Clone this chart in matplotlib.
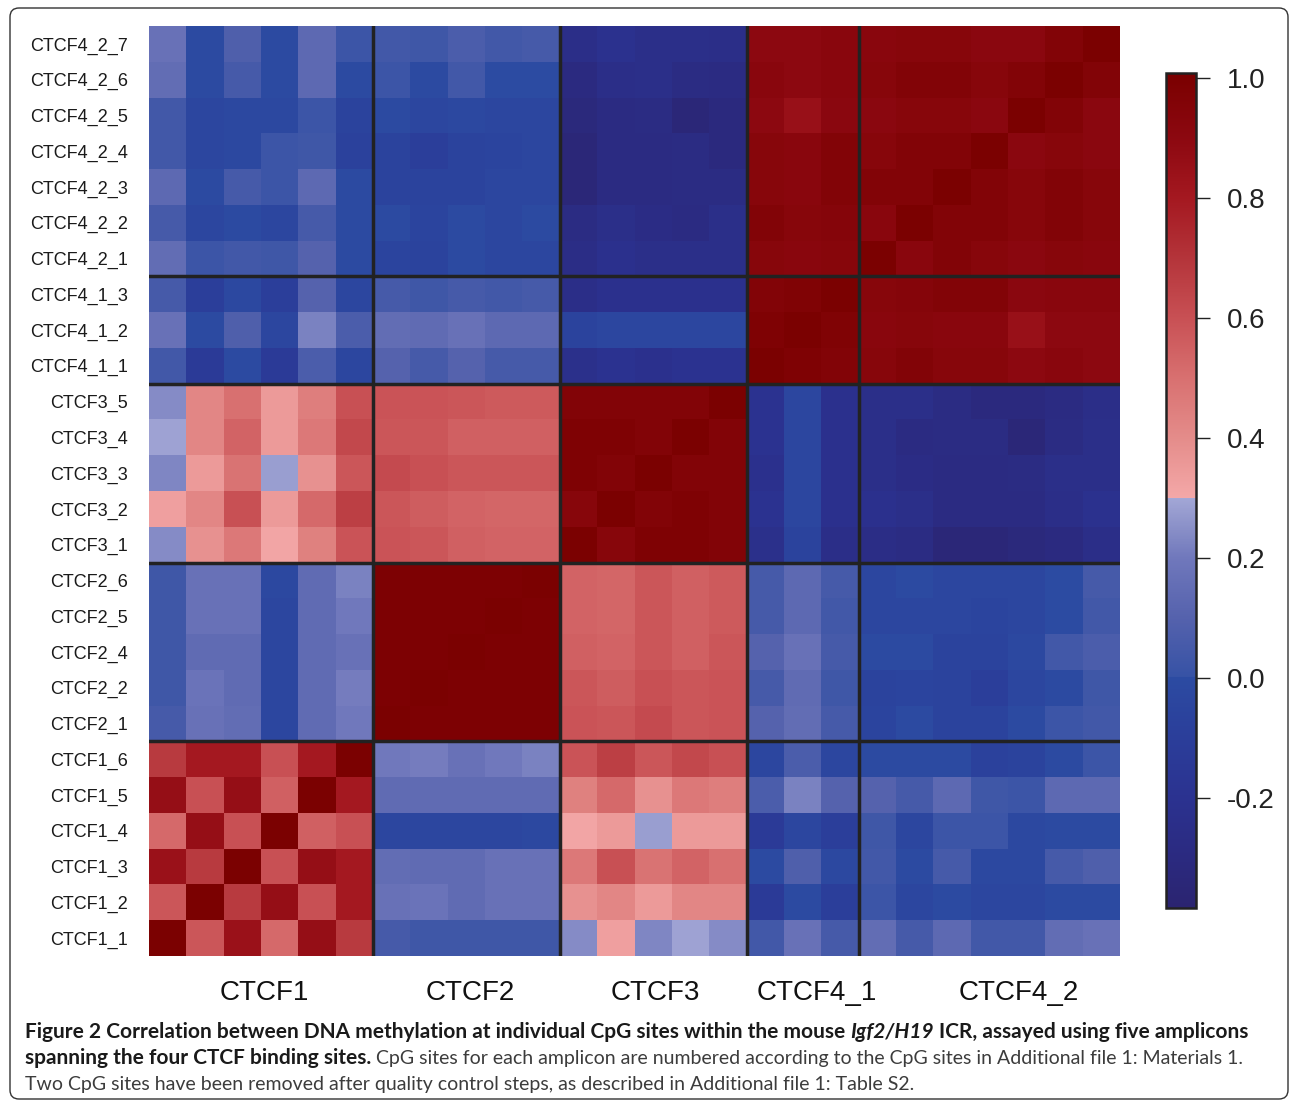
import numpy as np
import matplotlib
matplotlib.use('Agg')
import matplotlib.pyplot as plt
from matplotlib.colors import ListedColormap, Normalize, to_rgb
from matplotlib.patches import FancyBboxPatch
from matplotlib.transforms import IdentityTransform, blended_transform_factory

plt.rcParams['font.family'] = ['Liberation Sans', 'DejaVu Sans']
plt.rcParams['axes.unicode_minus'] = False

# CpG sites, bottom row / left column first
site_labels = ['CTCF1_1', 'CTCF1_2', 'CTCF1_3', 'CTCF1_4', 'CTCF1_5', 'CTCF1_6',
               'CTCF2_1', 'CTCF2_2', 'CTCF2_4', 'CTCF2_5', 'CTCF2_6',
               'CTCF3_1', 'CTCF3_2', 'CTCF3_3', 'CTCF3_4', 'CTCF3_5',
               'CTCF4_1_1', 'CTCF4_1_2', 'CTCF4_1_3',
               'CTCF4_2_1', 'CTCF4_2_2', 'CTCF4_2_3', 'CTCF4_2_4',
               'CTCF4_2_5', 'CTCF4_2_6', 'CTCF4_2_7']
amplicons = ['CTCF1', 'CTCF2', 'CTCF3', 'CTCF4_1', 'CTCF4_2']
amplicon_sizes = [6, 5, 5, 3, 7]
amplicon_label_x = [3.08, 8.59, 13.57, 17.88, 23.29]

# lower triangle of the correlation matrix (row i, columns 0..i-1)
corr_lower = [
    [],
    [0.58],
    [0.84, 0.68],
    [0.52, 0.86, 0.60],
    [0.86, 0.60, 0.86, 0.55],
    [0.68, 0.80, 0.80, 0.60, 0.80],
    [0.05, 0.17, 0.15, -0.04, 0.14, 0.20],
    [0.03, 0.18, 0.14, -0.04, 0.14, 0.21, 0.99],
    [0.03, 0.14, 0.14, -0.04, 0.14, 0.17, 0.99, 0.99],
    [0.03, 0.17, 0.17, -0.04, 0.14, 0.20, 0.99, 0.99, 0.99],
    [0.03, 0.17, 0.17, -0.02, 0.14, 0.22, 0.99, 0.99, 0.99, 0.99],
    [0.24, 0.38, 0.47, 0.31, 0.44, 0.59, 0.59, 0.58, 0.55, 0.54, 0.54],
    [0.33, 0.42, 0.60, 0.35, 0.52, 0.66, 0.58, 0.56, 0.54, 0.53, 0.53, 0.93],
    [0.23, 0.35, 0.49, 0.28, 0.38, 0.58, 0.62, 0.60, 0.58, 0.58, 0.58, 0.98, 0.96],
    [0.29, 0.42, 0.54, 0.35, 0.47, 0.63, 0.58, 0.58, 0.55, 0.55, 0.55, 0.98, 0.98, 0.96],
    [0.24, 0.42, 0.50, 0.35, 0.45, 0.60, 0.59, 0.59, 0.58, 0.57, 0.57, 0.96, 0.96, 0.96, 0.96],
    [0.04, -0.13, -0.01, -0.13, 0.07, -0.04, 0.10, 0.05, 0.10, 0.05, 0.05,
     -0.23, -0.20, -0.22, -0.20, -0.20],
    [0.17, -0.01, 0.08, -0.04, 0.22, 0.07, 0.15, 0.14, 0.17, 0.13, 0.13,
     -0.06, -0.04, -0.04, -0.04, -0.04, 0.98],
    [0.05, -0.10, -0.02, -0.10, 0.10, -0.04, 0.05, 0.03, 0.05, 0.04, 0.05,
     -0.25, -0.22, -0.22, -0.22, -0.22, 0.96, 0.97],
    [0.15, 0.02, 0.04, 0.03, 0.10, -0.01, -0.05, -0.06, -0.01, -0.04, -0.04,
     -0.26, -0.22, -0.24, -0.24, -0.24, 0.93, 0.92, 0.93],
    [0.05, -0.04, -0.01, -0.04, 0.05, -0.01, -0.01, -0.05, -0.01, -0.04, -0.01,
     -0.28, -0.24, -0.27, -0.29, -0.24, 0.96, 0.93, 0.94, 0.92],
    [0.13, -0.01, 0.05, 0.02, 0.13, -0.01, -0.06, -0.06, -0.06, -0.04, -0.04,
     -0.34, -0.29, -0.29, -0.28, -0.28, 0.93, 0.92, 0.96, 0.96, 0.96],
    [0.04, -0.04, -0.02, 0.02, 0.03, -0.08, -0.06, -0.10, -0.06, -0.05, -0.04,
     -0.34, -0.29, -0.29, -0.28, -0.31, 0.93, 0.92, 0.96, 0.93, 0.96, 0.96],
    [0.04, -0.04, -0.02, -0.02, 0.02, -0.06, -0.01, -0.04, -0.02, -0.04, -0.04,
     -0.32, -0.29, -0.28, -0.34, -0.31, 0.90, 0.85, 0.91, 0.91, 0.93, 0.93, 0.91],
    [0.15, -0.01, 0.05, -0.01, 0.13, -0.01, 0.02, -0.01, 0.04, 0.00, 0.00,
     -0.30, -0.25, -0.24, -0.28, -0.29, 0.92, 0.90, 0.92, 0.93, 0.96, 0.96, 0.93, 0.96],
    [0.17, -0.01, 0.08, -0.01, 0.13, 0.02, 0.04, 0.03, 0.07, 0.04, 0.05,
     -0.25, -0.21, -0.24, -0.24, -0.25, 0.90, 0.90, 0.92, 0.92, 0.93, 0.93, 0.91, 0.91, 0.96],
]

n = len(site_labels)
corr = np.eye(n)
for i, row in enumerate(corr_lower):
    for j, v in enumerate(row):
        corr[i, j] = v
        corr[j, i] = v

# colour scale: navy -> blue | light blue | pink -> dark red (breaks at 0 and 0.3)
vmin, vmax = -0.384, 1.008
segments = [
    [(-0.384, '#2b2470'), (-0.3, '#2b2a80'), (-0.2, '#2b3290'), (-0.1, '#2b3e9a'), (0.0, '#2c4ba2')],
    [(0.0, '#3652a5'), (0.1, '#5562ad'), (0.2, '#7078bc'), (0.25, '#8a90c8'), (0.3, '#a3a7d6')],
    [(0.3, '#f4a8a8'), (0.4, '#e48c8a'), (0.5, '#d87070'), (0.6, '#c85054'), (0.7, '#b4343a'),
     (0.8, '#a41820'), (0.9, '#8c0810'), (1.008, '#7a0000')],
]
grid = np.linspace(vmin, vmax, 1024)
rgb = np.zeros((len(grid), 3))
for seg in segments:
    xs = [p[0] for p in seg]
    cs = np.array([to_rgb(p[1]) for p in seg])
    m = (grid >= xs[0]) & (grid <= xs[-1])
    for c in range(3):
        rgb[m, c] = np.interp(grid[m], xs, cs[:, c])
cmap = ListedColormap(rgb)
norm = Normalize(vmin=vmin, vmax=vmax)

W, H = 1290, 1102
fig = plt.figure(figsize=(W / 100, H / 100), dpi=100)
fig.patch.set_facecolor('white')

ax = fig.add_axes([149 / W, 1 - 956 / H, 971 / W, 930 / H])
mesh = ax.pcolormesh(np.arange(n + 1), np.arange(n + 1), corr, cmap=cmap, norm=norm,
                     shading='flat', edgecolors='face', linewidth=0.0)
ax.set_xlim(0, n)
ax.set_ylim(0, n)
for s in ax.spines.values():
    s.set_visible(False)

bounds = np.cumsum(amplicon_sizes)[:-1]
for b in bounds:
    ax.axvline(b, color='#222222', lw=2.5)
    ax.axhline(b, color='#222222', lw=2.5)

ax.set_xticks([])
ax.set_yticks(np.arange(n) + 0.5)
ax.set_yticklabels(site_labels, fontsize=13, color='#1a1a1a')
ax.tick_params(axis='y', length=0, pad=15)

tr = blended_transform_factory(ax.transData, IdentityTransform())
for name, xpos in zip(amplicons, amplicon_label_x):
    ax.text(xpos, H - 1000, name, transform=tr, ha='center', va='baseline',
            fontsize=20, color='#111111')

# colour bar
cax = fig.add_axes([1166 / W, 1 - 908 / H, 30 / W, 835 / H])
cb = fig.colorbar(mesh, cax=cax, ticks=[-0.2, 0.0, 0.2, 0.4, 0.6, 0.8, 1.0], format='%.1f')
cb.outline.set_linewidth(1.8)
cb.outline.set_edgecolor('#222222')
cb.ax.tick_params(length=10, width=1.0, labelsize=20, pad=12, colors='#222222')

# rounded frame
frame = FancyBboxPatch((10, 3), 1278, 1091, boxstyle='round,pad=0,rounding_size=9',
                       transform=IdentityTransform(), fill=False, ec='#333333', lw=1.0)
fig.add_artist(frame)

# caption with mixed styles
renderer = fig.canvas.get_renderer()
bold_size = 15
reg_size = 14
bold_col = '#1a1a1a'
reg_col = '#3c3c3c'


def text_width(s, **kw):
    t = fig.text(0, 0, s, transform=IdentityTransform(), **kw)
    w = t.get_window_extent(renderer).width
    t.remove()
    return w


def caption_line(y, pieces, x=25):
    for s, weight, style, color in pieces:
        size = bold_size if weight == 'bold' else reg_size
        kw = dict(fontsize=size, family=['Lato', 'DejaVu Sans'], weight=weight, style=style)
        fig.text(x, y, s, transform=IdentityTransform(), color=color,
                 ha='left', va='baseline', **kw)
        space = text_width('a a', **kw) - text_width('aa', **kw)
        x += text_width(s, **kw) + space


caption_line(H - 1038, [
    ('Figure 2 Correlation between DNA methylation at individual CpG sites within the mouse',
     'bold', 'normal', bold_col),
    ('Igf2/H19', 'bold', 'italic', bold_col),
    ('ICR, assayed using five amplicons', 'bold', 'normal', bold_col),
])
caption_line(H - 1064, [
    ('spanning the four CTCF binding sites.', 'bold', 'normal', bold_col),
    ('CpG sites for each amplicon are numbered according to the CpG sites in '
     'Additional file 1: Materials 1.', 'normal', 'normal', reg_col),
])
caption_line(H - 1090, [
    ('Two CpG sites have been removed after quality control steps, as described in '
     'Additional file 1: Table S2.', 'normal', 'normal', reg_col),
])

fig.savefig('out.png', dpi=100)
